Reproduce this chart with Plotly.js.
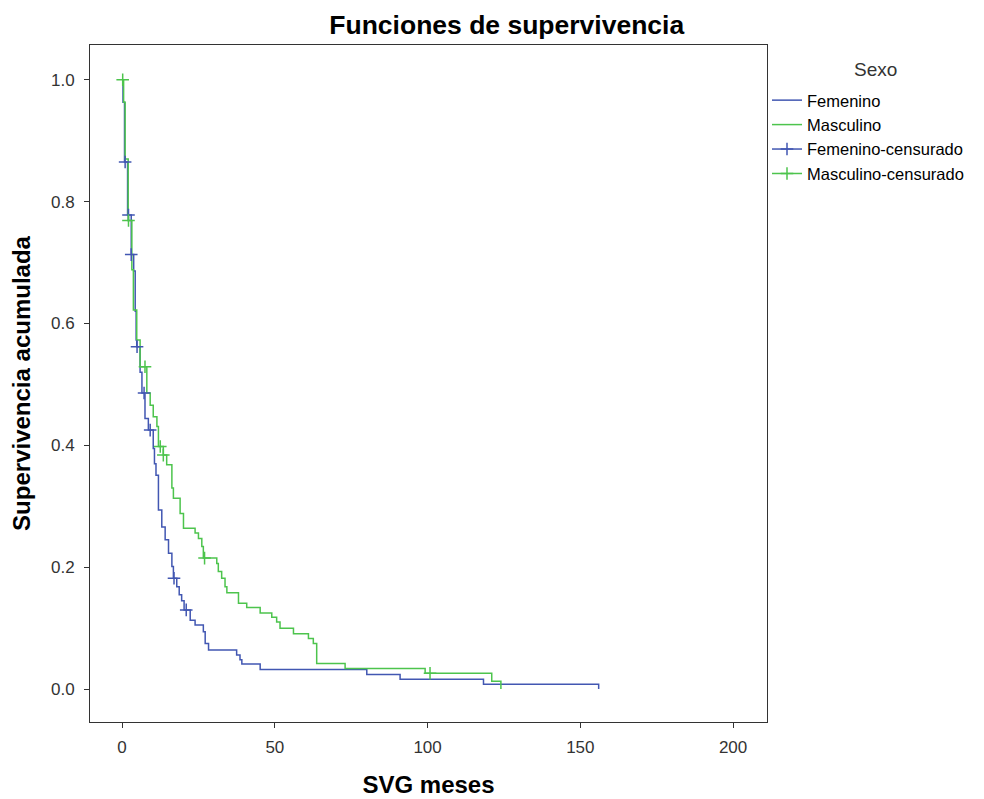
<!DOCTYPE html>
<html>
<head>
<meta charset="utf-8">
<script src="https://cdn.plot.ly/plotly-3.0.1.min.js"></script>
<style>html,body{margin:0;padding:0;background:#fff;}#chart{width:984px;height:799px;}</style>
</head>
<body>
<div id="chart"></div>
<script>
// Femenino (blue) Kaplan-Meier steps: time (months) and cumulative survival after each event
var femTime = [0, 0.3, 0.8, 1.8, 3.0, 3.8, 4.3, 4.6, 4.8, 5.9, 6.5, 7.5, 8.6, 10.2, 10.6, 11.1, 11.9, 13.0, 14.1, 15.2, 16.3, 16.8, 17.9, 18.7, 19.5, 20.3, 22.3, 23.9, 26.6, 27.2, 28.3, 37.5, 38.6, 39.2, 45.2, 80.1, 91.0, 118.3, 156.0];
var femSurv = [1.0, 0.963, 0.865, 0.778, 0.713, 0.686, 0.62, 0.573, 0.562, 0.52, 0.486, 0.444, 0.425, 0.395, 0.37, 0.351, 0.294, 0.266, 0.245, 0.223, 0.201, 0.182, 0.168, 0.155, 0.145, 0.13, 0.113, 0.105, 0.094, 0.075, 0.064, 0.056, 0.048, 0.041, 0.032, 0.024, 0.016, 0.008, 0.0];
// Masculino (green)
var masTime = [0, 0.5, 1.0, 2.0, 3.2, 3.7, 4.8, 5.9, 8.1, 9.2, 10.2, 11.4, 11.9, 13.5, 14.6, 16.3, 16.8, 19.0, 20.1, 23.9, 25.0, 26.1, 26.6, 31.0, 31.5, 32.6, 33.7, 34.3, 38.1, 40.8, 45.2, 49.0, 50.6, 51.7, 56.1, 61.0, 62.6, 63.7, 73.0, 99.2, 121.0, 124.0];
var masSurv = [1.0, 0.963, 0.87, 0.769, 0.688, 0.622, 0.573, 0.529, 0.486, 0.466, 0.447, 0.431, 0.398, 0.384, 0.368, 0.33, 0.313, 0.288, 0.264, 0.256, 0.247, 0.234, 0.215, 0.206, 0.193, 0.182, 0.168, 0.158, 0.141, 0.134, 0.125, 0.118, 0.11, 0.1, 0.091, 0.083, 0.075, 0.042, 0.034, 0.026, 0.013, 0.0];
// Censored observations
var femCensTime = [1.0, 2.1, 3.0, 4.9, 7.2, 9.2, 17.0, 21.0];
var femCensSurv = [0.865, 0.778, 0.713, 0.562, 0.486, 0.425, 0.182, 0.13];
var masCensTime = [0.2, 2.1, 7.5, 12.5, 13.5, 27.0, 100.8];
var masCensSurv = [1.0, 0.769, 0.529, 0.398, 0.384, 0.215, 0.026];

var xTicks = [0, 50, 100, 150, 200];
var yTicks = [0.0, 0.2, 0.4, 0.6, 0.8, 1.0];

var blue = '#4257b2';
var green = '#4dc44d';

function gapped(arr){ var out=[]; arr.forEach(function(v,i){ out.push(v); if(i<arr.length-1) out.push(null); }); return out; }

var traces = [
  {x: femTime, y: femSurv, type:'scatter', mode:'lines', name:'Femenino', line:{color:blue, width:1.5, shape:'hv'}},
  {x: masTime, y: masSurv, type:'scatter', mode:'lines', name:'Masculino', line:{color:green, width:1.5, shape:'hv'}},
  {x: gapped(femCensTime), y: gapped(femCensSurv), type:'scatter', mode:'lines+markers', connectgaps:false, name:'Femenino-censurado', line:{color:blue, width:1.5}, marker:{symbol:'cross-thin-open', size:9, line:{color:blue, width:1.5}}},
  {x: gapped(masCensTime), y: gapped(masCensSurv), type:'scatter', mode:'lines+markers', connectgaps:false, name:'Masculino-censurado', line:{color:green, width:1.5}, marker:{symbol:'cross-thin-open', size:9, line:{color:green, width:1.5}}}
];

var layout = {
  width: 984, height: 799,
  margin: {l:90, r:217, t:45, b:77, autoexpand:false},
  paper_bgcolor:'#ffffff', plot_bgcolor:'#ffffff',
  font: {family:'Liberation Sans, Arial, sans-serif', size:16, color:'#222'},
  title: {text:'Funciones de supervivencia', font:{size:26.5, color:'#000', family:'Liberation Sans, Arial, sans-serif', weight:'bold'}, x:0.515, xanchor:'center', xref:'container', y:0.969, yanchor:'middle', yref:'container'},
  xaxis: {
    range:[-10.5, 211.1], tickvals:xTicks, ticktext:xTicks.map(String),
    ticks:'outside', ticklen:5, tickcolor:'#333', tickfont:{size:17, color:'#333'}, ticklabelstandoff:5,
    showline:true, linecolor:'#333', linewidth:1, mirror:true, showgrid:false, zeroline:false,
    title:{text:'SVG meses', font:{size:24, color:'#000', weight:'bold'}, standoff:19}
  },
  yaxis: {
    range:[-0.054, 1.057], tickvals:yTicks, ticktext:yTicks.map(function(v){return v.toFixed(1);}),
    ticks:'outside', ticklen:5, tickcolor:'#333', tickfont:{size:17, color:'#333'}, ticklabelstandoff:6,
    showline:true, linecolor:'#333', linewidth:1, mirror:true, showgrid:false, zeroline:false,
    title:{text:'Supervivencia acumulada', font:{size:24, color:'#000', weight:'bold'}, standoff:13}
  },
  legend: {
    x:1.0, xanchor:'left', y:0.944, yanchor:'top', bgcolor:'rgba(0,0,0,0)',
    font:{size:16.5, color:'#000'}, tracegroupgap:0
  },
  annotations: [
    {text:'Sexo', xref:'paper', yref:'paper', x:1.161, y:(722-69)/677, xanchor:'center', yanchor:'middle', showarrow:false, font:{size:19, color:'#333'}}
  ],
  showlegend:true
};

Plotly.newPlot('chart', traces, layout, {displayModeBar:false, staticPlot:true});
</script>
</body>
</html>
